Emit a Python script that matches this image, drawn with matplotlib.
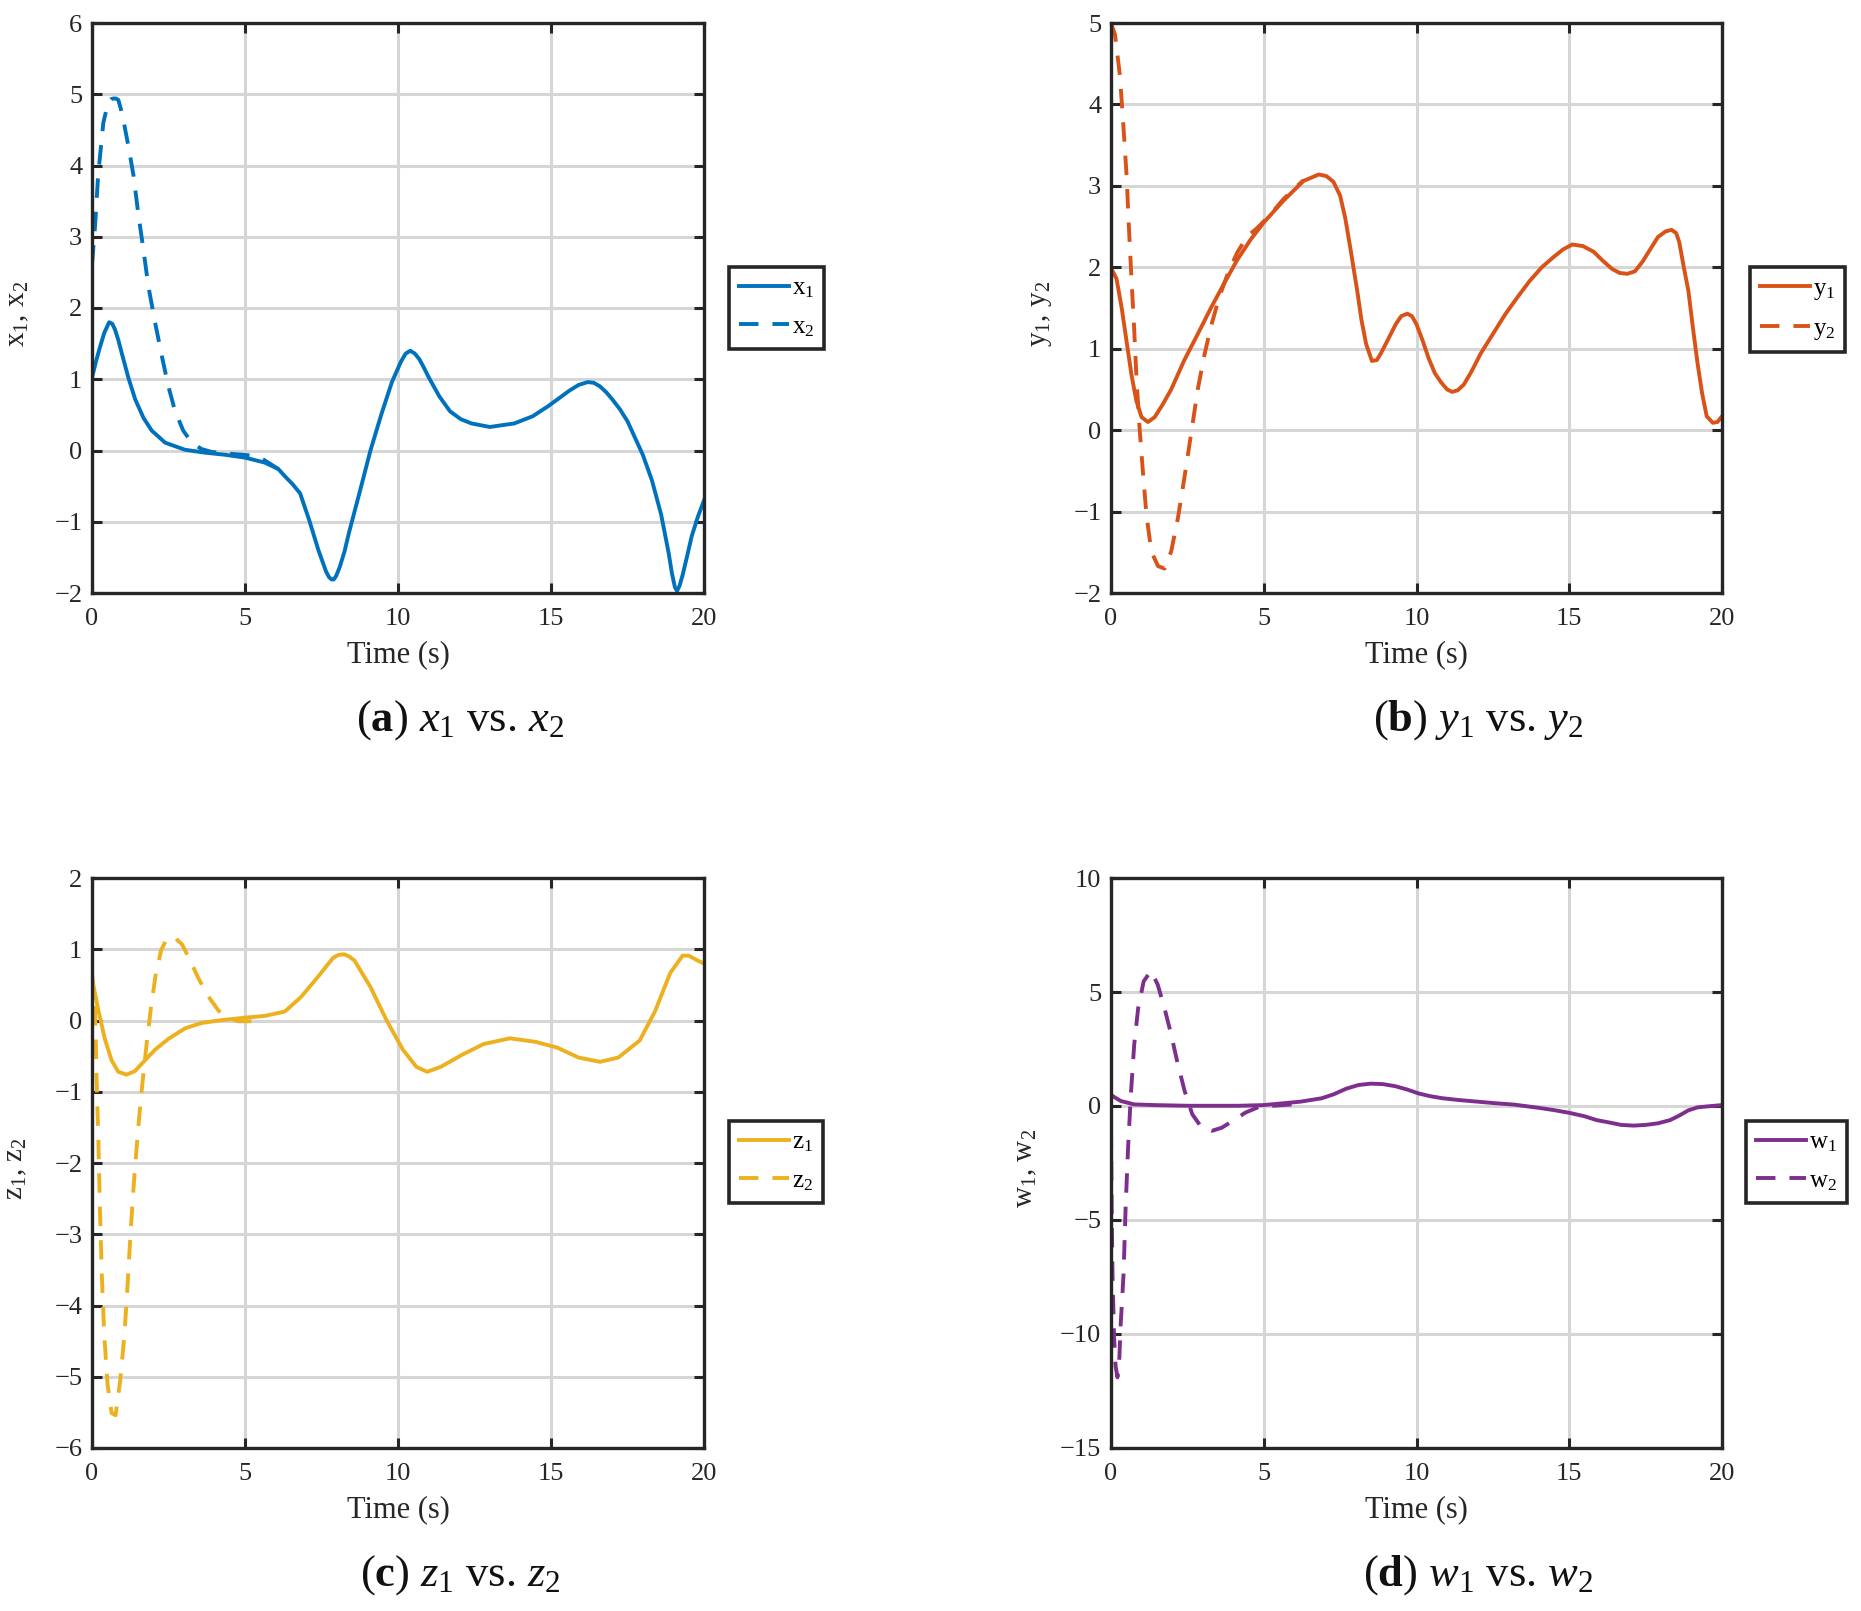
import matplotlib
matplotlib.use('Agg')
import matplotlib.pyplot as plt

plt.rcParams['font.family'] = ['Liberation Serif', 'DejaVu Serif']
plt.rcParams['mathtext.fontset'] = 'custom'
plt.rcParams['mathtext.rm'] = 'Liberation Serif'
plt.rcParams['mathtext.it'] = 'Liberation Serif:italic'
plt.rcParams['mathtext.bf'] = 'Liberation Serif:bold'

# ---- data ----
x1_t = [0, 0.13, 0.26, 0.4, 0.56, 0.66, 0.75, 0.86, 0.97, 1.19,
        1.41, 1.68, 1.95, 2.39, 3.04, 3.69, 4.35, 5.0, 5.65, 6.09,
        6.3, 6.55, 6.8, 7.1, 7.4, 7.65, 7.75, 7.83, 7.9, 7.98,
        8.1, 8.25, 8.4, 8.75, 9.1, 9.45, 9.8, 10.1, 10.25, 10.4,
        10.55, 10.7, 10.85, 11.0, 11.35, 11.7, 12.05, 12.4, 13.0, 13.8,
        14.4, 14.9, 15.6, 15.9, 16.2, 16.4, 16.6, 16.8, 17.0, 17.25,
        17.5, 18.0, 18.3, 18.6, 18.85, 18.95, 19.05, 19.12, 19.2, 19.3,
        19.45, 19.6, 19.8, 20.0]
x1_v = [1.02, 1.25, 1.45, 1.65, 1.8, 1.78, 1.7, 1.55, 1.37, 1.02,
        0.72, 0.46, 0.28, 0.11, 0.01, -0.03, -0.06, -0.1, -0.17, -0.26,
        -0.36, -0.47, -0.6, -0.98, -1.4, -1.7, -1.78, -1.81, -1.81, -1.76,
        -1.63, -1.42, -1.15, -0.58, 0.0, 0.5, 0.96, 1.25, 1.36, 1.4,
        1.36, 1.28, 1.16, 1.03, 0.76, 0.55, 0.44, 0.38, 0.33, 0.38,
        0.48, 0.62, 0.84, 0.92, 0.96, 0.95, 0.9, 0.82, 0.72, 0.58,
        0.41, -0.06, -0.42, -0.9, -1.45, -1.72, -1.92, -1.97, -1.9, -1.75,
        -1.48, -1.2, -0.93, -0.7]
x2_t = [0, 0.1, 0.2, 0.37, 0.53, 0.62, 0.7, 0.78, 0.86, 0.94,
        1.02, 1.19, 1.36, 1.51, 1.68, 1.84, 2.06, 2.28, 2.49, 2.71,
        2.98, 3.26, 3.58, 3.91, 4.35, 5.2, 5.54, 6.09]
x2_v = [2.61, 3.15, 3.86, 4.6, 4.89, 4.93, 4.94, 4.94, 4.92, 4.8,
        4.65, 4.27, 3.85, 3.33, 2.82, 2.31, 1.8, 1.33, 0.91, 0.56,
        0.28, 0.11, 0.02, -0.02, -0.04, -0.07, -0.11, -0.26]

y1_t = [0, 0.18, 0.35, 0.51, 0.67, 0.83, 1.0, 1.21, 1.43, 1.7,
        1.97, 2.4, 2.84, 3.27, 3.7, 4.13, 4.57, 5.0, 5.65, 6.3,
        6.8, 7.05, 7.28, 7.5, 7.67, 7.85, 8.06, 8.2, 8.35, 8.54,
        8.7, 8.83, 9.05, 9.32, 9.5, 9.7, 9.85, 10.0, 10.2, 10.4,
        10.6, 10.8, 11.0, 11.17, 11.35, 11.55, 11.8, 12.1, 12.5, 12.9,
        13.3, 13.7, 14.1, 14.5, 14.8, 15.1, 15.45, 15.8, 16.1, 16.4,
        16.65, 16.9, 17.15, 17.4, 17.65, 17.9, 18.15, 18.35, 18.5, 18.6,
        18.75, 18.9, 19.05, 19.2, 19.35, 19.5, 19.7, 19.85, 20.0]
y1_v = [1.99, 1.86, 1.5, 1.09, 0.68, 0.36, 0.16, 0.1, 0.16, 0.32,
        0.5, 0.86, 1.18, 1.5, 1.8, 2.09, 2.34, 2.55, 2.82, 3.06,
        3.14, 3.12, 3.05, 2.88, 2.6, 2.2, 1.71, 1.35, 1.06, 0.85,
        0.86, 0.94, 1.1, 1.3, 1.4, 1.43, 1.4, 1.3, 1.1, 0.88,
        0.7, 0.59, 0.5, 0.47, 0.49, 0.56, 0.72, 0.94, 1.18, 1.42,
        1.63, 1.83, 2.0, 2.13, 2.22, 2.28, 2.26, 2.19, 2.08, 1.98,
        1.93, 1.92, 1.95, 2.07, 2.22, 2.37, 2.44, 2.46, 2.42, 2.31,
        2.0, 1.71, 1.25, 0.82, 0.45, 0.17, 0.09, 0.1, 0.17]
y2_t = [0, 0.13, 0.29, 0.4, 0.51, 0.58, 0.67, 0.76, 0.84, 0.94,
        1.05, 1.16, 1.32, 1.54, 1.75, 1.97, 2.19, 2.4, 2.62, 2.84,
        3.05, 3.27, 3.54, 3.81, 4.13, 4.46, 4.78, 5.2, 5.65, 6.3]
y2_v = [5.0, 4.86, 4.36, 3.77, 3.13, 2.54, 1.86, 1.23, 0.59, 0.0,
        -0.54, -1.04, -1.49, -1.67, -1.7, -1.49, -1.08, -0.59, -0.05, 0.5,
        0.91, 1.27, 1.63, 1.91, 2.18, 2.38, 2.48, 2.64, 2.84, 3.07]

z1_t = [0, 0.21, 0.42, 0.64, 0.86, 1.13, 1.4, 1.73, 2.06, 2.49,
        3.04, 3.58, 4.13, 5.0, 5.65, 6.3, 6.83, 7.36, 7.88, 8.05,
        8.23, 8.4, 8.58, 9.1, 9.63, 10.16, 10.6, 10.95, 11.4, 12.1,
        12.8, 13.66, 14.5, 15.2, 15.9, 16.6, 17.2, 17.9, 18.4, 18.9,
        19.3, 19.5, 19.8, 20.0]
z1_v = [0.59, 0.14, -0.26, -0.56, -0.72, -0.76, -0.71, -0.56, -0.41, -0.26,
        -0.11, -0.035, 0.0, 0.04, 0.065, 0.125, 0.33, 0.6, 0.88, 0.92,
        0.93, 0.9, 0.84, 0.47, 0.0, -0.41, -0.65, -0.72, -0.65, -0.48,
        -0.33, -0.25, -0.3, -0.38, -0.52, -0.58, -0.52, -0.28, 0.13, 0.67,
        0.91, 0.91, 0.84, 0.8]
z2_t = [0, 0.1, 0.15, 0.21, 0.26, 0.32, 0.4, 0.51, 0.64, 0.77,
        0.92, 1.06, 1.17, 1.27, 1.38, 1.51, 1.64, 1.79, 1.93, 2.08,
        2.26, 2.44, 2.66, 2.94, 3.21, 3.48, 3.8, 4.13, 4.46, 4.78,
        5.22, 5.49]
z2_v = [0.67, 0.19, -0.81, -1.71, -2.66, -3.56, -4.41, -5.11, -5.51, -5.54,
        -5.06, -4.41, -3.66, -2.91, -2.21, -1.51, -0.91, -0.31, 0.19, 0.64,
        0.99, 1.14, 1.18, 1.07, 0.84, 0.59, 0.34, 0.14, 0.03, -0.01,
        -0.01, 0.025]

w1_t = [0, 0.32, 0.76, 1.42, 2.52, 4.17, 5.0, 6.2, 6.9, 7.3,
        7.7, 8.1, 8.5, 8.9, 9.3, 9.7, 10.07, 10.45, 10.85, 11.4,
        12.0, 12.6, 13.2, 14.0, 14.5, 15.0, 15.5, 15.9, 16.3, 16.7,
        17.1, 17.5, 17.9, 18.3, 18.6, 18.9, 19.2, 19.5, 20.0]
w1_v = [0.48, 0.22, 0.07, 0.04, 0.01, 0.01, 0.04, 0.19, 0.34, 0.52,
        0.76, 0.92, 0.98, 0.96, 0.87, 0.72, 0.55, 0.43, 0.34, 0.26,
        0.19, 0.12, 0.06, -0.08, -0.18, -0.3, -0.45, -0.62, -0.72, -0.83,
        -0.86, -0.83, -0.76, -0.62, -0.42, -0.19, -0.06, -0.02, 0.04]
w2_t = [0, 0.02, 0.05, 0.1, 0.15, 0.21, 0.26, 0.32, 0.41, 0.48,
        0.56, 0.65, 0.76, 0.89, 1.07, 1.31, 1.53, 1.75, 1.97, 2.19,
        2.41, 2.66, 2.97, 3.3, 3.63, 4.01, 4.4, 4.84, 5.28, 5.94]
w2_v = [-0.95, -4.4, -7.4, -10.1, -11.4, -11.9, -11.5, -9.5, -7.4, -4.4,
        -1.8, 0.5, 2.7, 4.3, 5.47, 5.93, 5.32, 4.3, 3.13, 1.82,
        0.66, -0.36, -0.95, -1.09, -0.95, -0.63, -0.29, -0.04, 0.01, 0.07]

panels = [
    ('x', '#0072BD', x1_t, x1_v, x2_t, x2_v, (-2, 6), 1, 'a'),
    ('y', '#D95319', y1_t, y1_v, y2_t, y2_v, (-2, 5), 1, 'b'),
    ('z', '#EDB120', z1_t, z1_v, z2_t, z2_v, (-6, 2), 1, 'c'),
    ('w', '#7E2F8E', w1_t, w1_v, w2_t, w2_v, (-15, 10), 5, 'd'),
]

W, H = 1861, 1611
fig = plt.figure(figsize=(W / 100, H / 100), dpi=100)

# pixel boxes of the axes (left, top, right, bottom)
boxes = [(92, 23, 704, 593), (1111, 23, 1722, 593),
         (92, 878, 704, 1448), (1111, 878, 1722, 1448)]
legend_xy = [(729, 267), (1750, 267), (729, 1121), (1746, 1121)]
ylab_x = [-0.1, -0.093, -0.103, -0.118]
captions_xy = [(460, 720), (1478, 720), (460, 1575), (1478, 1575)]

dark = '#262626'
for k, (nm, col, t1, v1, t2, v2, ylim, step, tag) in enumerate(panels):
    l, t, r, b = boxes[k]
    ax = fig.add_axes([l / W, 1 - b / H, (r - l) / W, (b - t) / H])
    ax.plot(t1, v1, color=col, lw=2.8, label=r'$\mathrm{%s}_1$' % nm,
            solid_joinstyle='round')
    ax.plot(t2, v2, color=col, lw=2.8, ls=(0, (5, 3.6)),
            label=r'$\mathrm{%s}_2$' % nm)
    ax.set_xlim(0, 20)
    ax.set_ylim(*ylim)
    ax.set_xticks(range(0, 21, 5))
    ax.set_yticks(range(ylim[0], ylim[1] + 1, step))
    ax.grid(True, color='#d6d6d6', lw=2.2)
    ax.set_axisbelow(True)
    for s in ax.spines.values():
        s.set_linewidth(2.4)
        s.set_color(dark)
    ax.tick_params(direction='in', length=7, width=2.2, color=dark,
                   top=True, right=True, labelsize=19, labelcolor=dark)
    ax.tick_params(axis='x', pad=11)
    ax.tick_params(axis='y', pad=7)
    ax.set_xlabel('Time (s)', fontsize=22, color=dark)
    ax.xaxis.set_label_coords(0.5, -0.082)
    ax.set_ylabel(r'$\mathrm{%s}_1$, $\mathrm{%s}_2$' % (nm, nm),
                  fontsize=21, color=dark)
    ax.yaxis.set_label_coords(ylab_x[k], 0.49)

    lx, ly = legend_xy[k]
    leg = ax.legend(loc='upper left', bbox_to_anchor=(lx / W, 1 - ly / H),
                    bbox_transform=fig.transFigure, fontsize=18,
                    frameon=True, fancybox=False, borderaxespad=0,
                    handlelength=2.0, handletextpad=0.12, borderpad=0.4,
                    labelspacing=0.62)
    fr = leg.get_frame()
    fr.set_edgecolor(dark)
    fr.set_linewidth(2.6)
    fr.set_alpha(1)

    cx, cy = captions_xy[k]
    fig.text(cx / W, 1 - cy / H,
             r'($\mathbf{%s}$) $%s_1$ vs. $%s_2$' % (tag, nm, nm),
             fontsize=32, ha='center', va='center', color='#111111')

fig.savefig('out.png', dpi=100)
